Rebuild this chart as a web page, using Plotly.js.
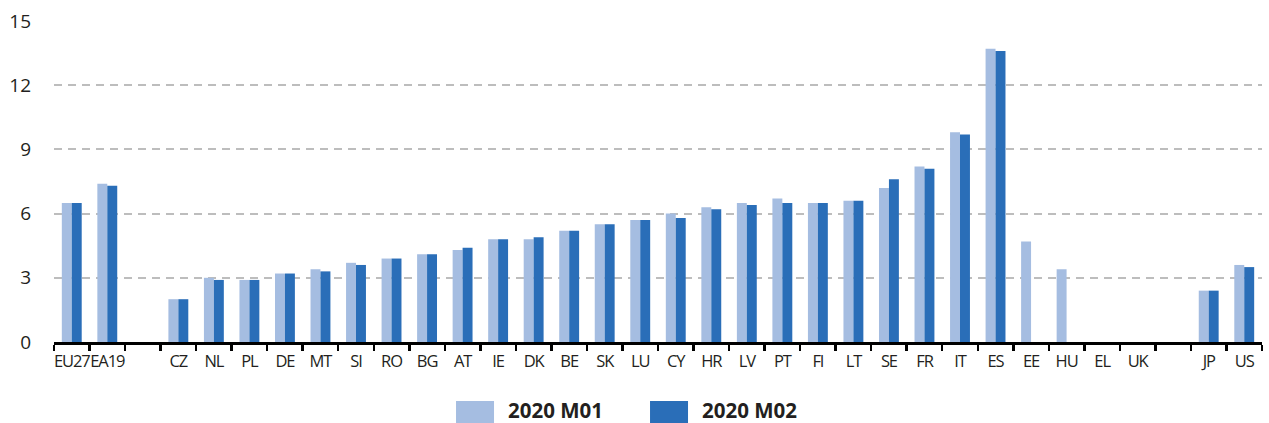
<!DOCTYPE html>
<html>
<head>
<meta charset="utf-8">
<script src="https://cdn.plot.ly/plotly-3.0.1.min.js"></script>
<style>
html,body{margin:0;padding:0;background:#fff;}
#chart{width:1269px;height:423px;}
#chart .xtick text{letter-spacing:-1.1px;}
</style>
</head>
<body>
<div id="chart"></div>
<script>
const categories = ["EU27","EA19"," ","CZ","NL","PL","DE","MT","SI","RO","BG","AT","IE","DK","BE","SK","LU","CY","HR","LV","PT","FI","LT","SE","FR","IT","ES","EE","HU","EL","UK","  ","JP","US"];
const m01 = [6.5,7.4,null,2.0,3.0,2.9,3.2,3.4,3.7,3.9,4.1,4.3,4.8,4.8,5.2,5.5,5.7,6.0,6.3,6.5,6.7,6.5,6.6,7.2,8.2,9.8,13.7,4.7,3.4,null,null,null,2.4,3.6];
const m02 = [6.5,7.3,null,2.0,2.9,2.9,3.2,3.3,3.6,3.9,4.1,4.4,4.8,4.9,5.2,5.5,5.7,5.8,6.2,6.4,6.5,6.5,6.6,7.6,8.1,9.7,13.6,null,null,null,null,null,2.4,3.5];
const seriesNames = ["2020 M01","2020 M02"];
const colors = ["#A5BDE1","#2A6EB8"];
const yTicks = [0,3,6,9,12,15];

const FONT = "'Open Sans','Noto Sans',sans-serif";

const traces = [m01, m02].map((vals, i) => ({
  type: "bar",
  name: seriesNames[i],
  x: categories,
  y: vals,
  marker: {color: colors[i], line: {width: 0}},
  showlegend: false,
  hoverinfo: "x+y+name"
}));

// custom legend (large swatches) in paper coordinates
const shapes = [];
const annotations = [];
const swatchX = [0.3328, 0.4934];
const labelX = [0.3742, 0.5348];
seriesNames.forEach((n, i) => {
  shapes.push({type: "rect", xref: "paper", yref: "paper", x0: swatchX[i], x1: swatchX[i] + 38/1208, y0: -0.2523, y1: -0.1838, fillcolor: colors[i], line: {width: 0}});
  annotations.push({xref: "paper", yref: "paper", x: labelX[i], y: -0.2118, xanchor: "left", yanchor: "middle", text: "<b>" + n + "</b>", showarrow: false, font: {family: FONT, size: 20.5, color: "#231f20"}});
});

const layout = {
  width: 1269, height: 423,
  margin: {l: 54, r: 7, t: 21, b: 81},
  paper_bgcolor: "#fff", plot_bgcolor: "#fff",
  barmode: "group",
  bargap: 0.44,
  bargroupgap: 0,
  font: {family: FONT, size: 17, color: "#231f20"},
  xaxis: {
    type: "category",
    categoryorder: "array",
    categoryarray: categories,
    tickson: "boundaries",
    tickangle: 0,
    ticks: "outside",
    ticklen: 6,
    tickwidth: 2.5,
    tickcolor: "#000",
    showline: true,
    linecolor: "#000",
    linewidth: 3,
    showgrid: false,
    ticklabelstandoff: 2,
    tickfont: {family: FONT, size: 16.5, color: "#231f20"},
    fixedrange: true
  },
  yaxis: {
    range: [0, 15],
    tickvals: yTicks,
    ticks: "",
    showline: false,
    showgrid: true,
    gridcolor: "#BDBDBD",
    gridwidth: 2,
    griddash: "8px,6px",
    zeroline: false,
    ticklabelstandoff: 22,
    tickfont: {family: FONT, size: 19, color: "#231f20"},
    fixedrange: true
  },
  shapes: shapes,
  annotations: annotations
};

Plotly.newPlot("chart", traces, layout, {displayModeBar: false, staticPlot: true});
</script>
</body>
</html>
